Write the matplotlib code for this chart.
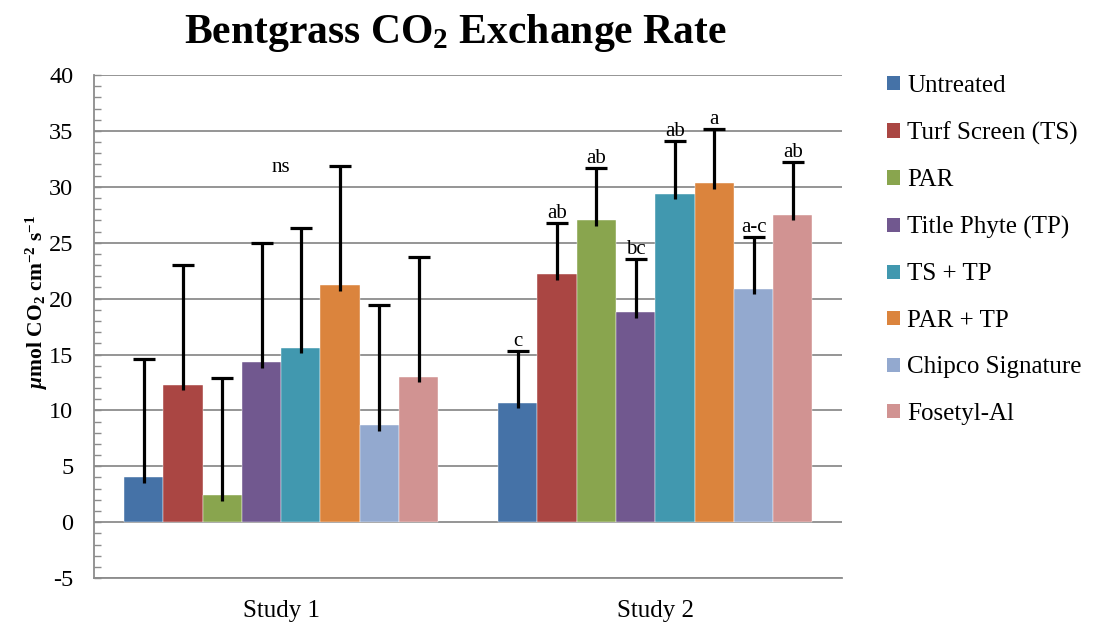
#!/usr/bin/env python3
"""Bentgrass CO2 exchange rate by treatment, two studies, with error bars and letter groups."""

import matplotlib
matplotlib.use('Agg')
import matplotlib.pyplot as plt
from matplotlib.patches import Patch
from matplotlib.ticker import MultipleLocator
import numpy as np

plt.rcParams['font.family'] = ['Liberation Serif', 'DejaVu Serif']
plt.rcParams['axes.unicode_minus'] = False
plt.rcParams['mathtext.fontset'] = 'custom'
plt.rcParams['mathtext.rm'] = 'Liberation Serif:bold'
plt.rcParams['mathtext.it'] = 'Liberation Serif:italic:bold'
plt.rcParams['mathtext.bf'] = 'Liberation Serif:bold'

studies = ["Study 1", "Study 2"]
treatments = ["Untreated", "Turf Screen (TS)", "PAR", "Title Phyte (TP)",
              "TS + TP", "PAR + TP", "Chipco Signature", "Fosetyl-Al"]

# mean exchange rate per treatment, one list per study
study1_mean = [4.0, 12.3, 2.4, 14.3, 15.6, 21.2, 8.7, 13.0]
study2_mean = [10.7, 22.2, 27.0, 18.8, 29.4, 30.3, 20.9, 27.5]
# upper error (distance from bar top to cap)
study1_err = [10.6, 10.7, 10.5, 10.7, 10.7, 10.7, 10.7, 10.7]
study2_err = [4.6, 4.6, 4.7, 4.7, 4.7, 4.9, 4.6, 4.7]

study2_letters = ["c", "ab", "ab", "bc", "ab", "a", "a-c", "ab"]
study1_note = "ns"
study1_note_y = 31.7

COLORS = ["#4572A7", "#AA4643", "#89A54E", "#71588F",
          "#4198AF", "#DB843D", "#93A9CF", "#D19392"]
GRID = "#8C8C8C"
STUB = 0.5  # error line dips slightly into the bar

fig = plt.figure(figsize=(10.94, 6.25), dpi=100)
ax = fig.add_axes([0.086, 0.075, 0.684, 0.805])

means = np.array([study1_mean, study2_mean])
errs = np.array([study1_err, study2_err])
n = len(treatments)
width = 0.105
x = np.arange(len(studies))

for i in range(n):
    xs = x + (i - (n - 1) / 2) * width
    tops = means[:, i] + errs[:, i]
    ax.bar(xs, means[:, i], width=width, color=COLORS[i], zorder=2,
           edgecolor='white', linewidth=0.3)
    # plus-only error bar with a cap at the top
    ax.vlines(xs, means[:, i] - STUB, tops, color='black', linewidth=2.3, zorder=3)
    ax.plot(xs, tops, linestyle='none', marker='_', markersize=16,
            markeredgewidth=2.3, color='black', zorder=3)
    ax.annotate(study2_letters[i], (xs[1], tops[1]),
                xytext=(0, 0), textcoords='offset points',
                ha='center', va='bottom', fontsize=15, zorder=4)

ax.text(x[0], study1_note_y, study1_note, ha='center', va='center', fontsize=15)

ax.set_xlim(-0.5, 1.5)
ax.set_ylim(-5, 40)
ax.yaxis.set_major_locator(MultipleLocator(5))
ax.yaxis.set_minor_locator(MultipleLocator(1))
ax.grid(axis='y', which='major', color=GRID, linewidth=1.3, zorder=0)
ax.set_axisbelow(True)

ax.set_xticks(x)
ax.set_xticklabels(studies, fontsize=18)
ax.tick_params(axis='x', length=0, pad=16)
ax.tick_params(axis='y', which='both', direction='in', length=5, width=1,
               color=GRID, labelsize=17.5, pad=15)

for side in ['top', 'right']:
    ax.spines[side].set_visible(False)
for side in ['left', 'bottom']:
    ax.spines[side].set_color(GRID)
    ax.spines[side].set_linewidth(1.3)

ax.set_ylabel(r'$\mathit{\mu}$mol CO$_2$ cm$^{-2}$ s$^{-1}$',
              fontsize=15.5, fontweight='bold')
ax.yaxis.set_label_coords(-0.059, 0.548)

fig.text(0.416, 0.947, r'Bentgrass CO$_2$ Exchange Rate', ha='center', va='center',
         fontsize=30, fontweight='bold')

handles = [Patch(facecolor=c, edgecolor='none') for c in COLORS]
fig.legend(handles, treatments, loc='upper left', bbox_to_anchor=(0.802, 0.896),
           frameon=False, fontsize=18, handlelength=0.5, handleheight=0.5,
           handletextpad=0.3, labelspacing=0.98, borderaxespad=0)

fig.savefig("out.png", dpi=100)
